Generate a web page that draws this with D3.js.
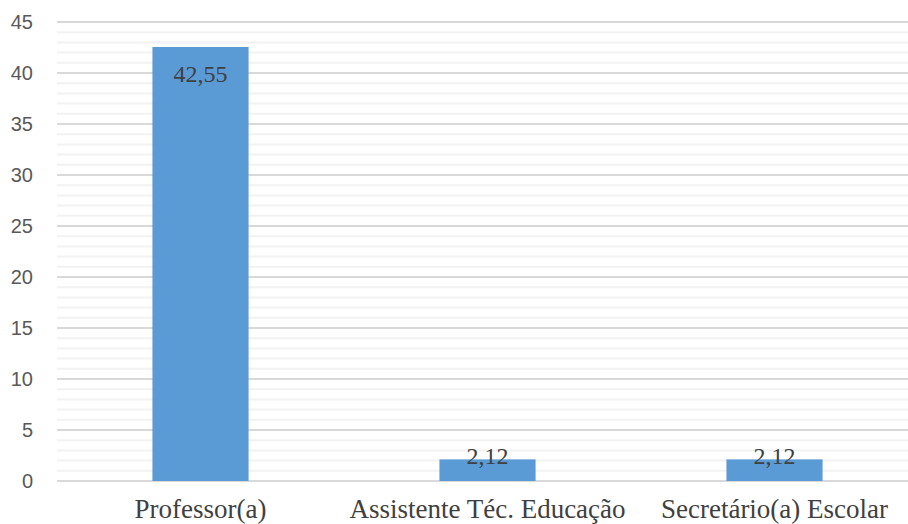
<!DOCTYPE html>
<html>
<head>
<meta charset="utf-8">
<script src="https://cdn.jsdelivr.net/npm/d3@7"></script>
<style>
  html, body { margin: 0; padding: 0; background: #fff; }
  svg { display: block; }
</style>
</head>
<body>
<div id="chart"></div>
<script>
// chart data
const categories = ["Professor(a)", "Assistente Téc. Educação", "Secretário(a) Escolar"];
const values = [42.55, 2.12, 2.12];
const valueLabels = ["42,55", "2,12", "2,12"];
const yTicks = [0, 5, 10, 15, 20, 25, 30, 35, 40, 45];

const width = 908, height = 524;
const margin = { top: 22, right: -10, bottom: 43, left: 57 };

const svg = d3.select("#chart").append("svg")
    .attr("width", width)
    .attr("height", height);

const x = d3.scaleBand()
    .domain(categories)
    .range([margin.left, width - margin.right])
    .paddingInner(0.665)
    .paddingOuter(0.3325);

const y = d3.scaleLinear()
    .domain([0, 45])
    .range([height - margin.bottom, margin.top]);

// minor gridlines (every 1 unit)
svg.append("g")
  .selectAll("line")
  .data(d3.range(1, 45).filter(v => v % 5 !== 0))
  .join("line")
    .attr("x1", margin.left)
    .attr("x2", width)
    .attr("y1", d => y(d))
    .attr("y2", d => y(d))
    .attr("stroke", "#f2f2f2")
    .attr("stroke-width", 2);

// major gridlines
svg.append("g")
  .selectAll("line")
  .data(yTicks)
  .join("line")
    .attr("x1", margin.left)
    .attr("x2", width)
    .attr("y1", d => y(d))
    .attr("y2", d => y(d))
    .attr("stroke", "#d9d9d9")
    .attr("stroke-width", 2);

// y axis labels
svg.append("g")
    .attr("transform", `translate(${margin.left - 24},0)`)
    .call(d3.axisLeft(y).tickValues(yTicks).tickSize(0).tickPadding(0))
    .call(g => g.select(".domain").remove())
    .call(g => g.selectAll("text")
        .attr("fill", "#595959")
        .style("font", "20px 'Liberation Sans', Arial, sans-serif"));

// bars
svg.append("g")
  .selectAll("rect")
  .data(values)
  .join("rect")
    .attr("x", (d, i) => x(categories[i]))
    .attr("width", x.bandwidth())
    .attr("y", d => y(d))
    .attr("height", d => y(0) - y(d))
    .attr("fill", "#5b9bd5");

// value labels
svg.append("g")
  .selectAll("text")
  .data(values)
  .join("text")
    .attr("x", (d, i) => x(categories[i]) + x.bandwidth() / 2)
    .attr("y", d => (y(0) - y(d) > 40) ? y(d) + 35 : y(d) + 5)
    .attr("text-anchor", "middle")
    .attr("fill", "#404040")
    .style("font", "24px 'Liberation Serif', 'Times New Roman', serif")
    .text((d, i) => valueLabels[i]);

// x axis labels
svg.append("g")
  .selectAll("text")
  .data(categories)
  .join("text")
    .attr("x", d => x(d) + x.bandwidth() / 2)
    .attr("y", 518)
    .attr("text-anchor", "middle")
    .attr("fill", "#404040")
    .style("font", "27px 'Liberation Serif', 'Times New Roman', serif")
    .text(d => d);
</script>
</body>
</html>
